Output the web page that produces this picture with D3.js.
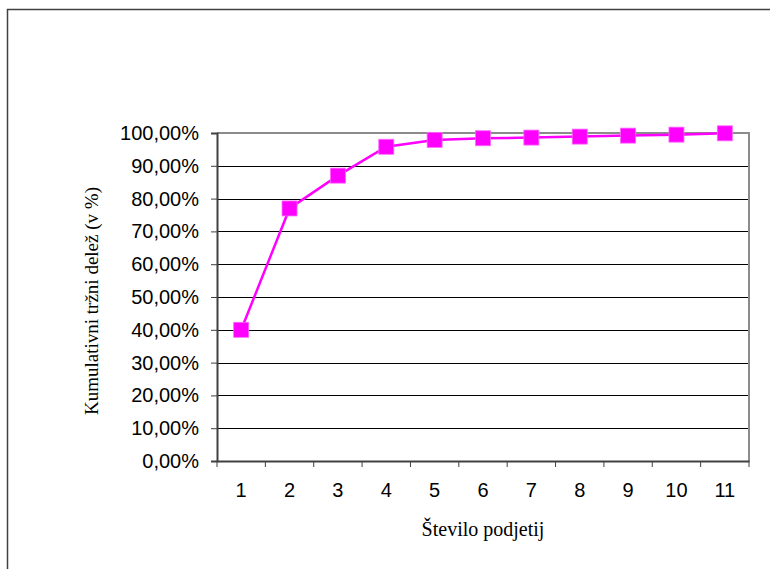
<!DOCTYPE html>
<html>
<head>
<meta charset="utf-8">
<script src="https://cdn.jsdelivr.net/npm/d3@7"></script>
<style>
html,body{margin:0;padding:0;background:#fff;}
svg{display:block;}
</style>
</head>
<body>
<svg id="chart" width="770" height="569"></svg>
<script>
const categories = ["1","2","3","4","5","6","7","8","9","10","11"];
const values = [40.0, 77.0, 87.0, 95.8, 97.9, 98.4, 98.6, 98.9, 99.2, 99.5, 99.9];
const yTicks = [0,10,20,30,40,50,60,70,80,90,100];
const xTitle = "Število podjetij";
const yTitle = "Kumulativni tržni delež (v %)";

const SANS = "'Liberation Sans', Arial, sans-serif";
const SERIF = "'Liberation Serif', 'DejaVu Serif', serif";

const svg = d3.select("#chart");
const L = 217, R = 749, T = 133, B = 461;

// outer frame
svg.append("path").attr("d", "M7.5,575 L7.5,9.5 L780,9.5")
  .attr("fill","none").attr("stroke","#404040").attr("stroke-width",1.5);

const x = d3.scaleBand().domain(categories).range([L, R]).padding(0);
const y = d3.scaleLinear().domain([0,100]).range([B, T]);

// gridlines
svg.append("g").selectAll("line").data(yTicks.filter(d => d > 0 && d < 100)).join("line")
  .attr("x1", L).attr("x2", R)
  .attr("y1", d => Math.round(y(d)) + 0.5).attr("y2", d => Math.round(y(d)) + 0.5)
  .attr("stroke", "#000").attr("stroke-width", 1);

// plot border top and right (gray)
svg.append("path").attr("d", `M${L},${T} L${R},${T} L${R},${B}`)
  .attr("fill","none").attr("stroke","#8c8c8c").attr("stroke-width",2);

// y axis
const fmt = d => d.toFixed(2).replace(".", ",") + "%";
const yAxis = svg.append("g").attr("transform", `translate(${L},0)`)
  .call(d3.axisLeft(y).tickValues(yTicks).tickFormat(fmt).tickSize(6).tickPadding(12));
yAxis.attr("font-family", null).attr("font-size", null);
yAxis.select(".domain").attr("stroke","#404040").attr("stroke-width",2);
yAxis.selectAll(".tick line").attr("stroke","#404040");
yAxis.selectAll("text").style("font-family", SANS).style("font-size","20px").attr("fill","#000");

// x axis
const xAxis = svg.append("g").attr("transform", `translate(0,${B})`)
  .call(d3.axisBottom(x).tickSize(0).tickPadding(22));
xAxis.attr("font-family", null).attr("font-size", null);
xAxis.select(".domain").attr("stroke","#404040").attr("stroke-width",2);
xAxis.selectAll("text").style("font-family", SANS).style("font-size","20px").attr("fill","#000");
// tick marks at category boundaries
const bounds = categories.map(c => x(c)).concat([R]);
svg.append("g").selectAll("line").data(bounds).join("line")
  .attr("x1", d => d).attr("x2", d => d)
  .attr("y1", B).attr("y2", B + 6)
  .attr("stroke","#404040").attr("stroke-width",1);

// line
const cx = d => x(d) + x.bandwidth()/2;
const line = d3.line().x((d,i) => cx(categories[i])).y(d => y(d));
svg.append("path").datum(values).attr("d", line)
  .attr("fill","none").attr("stroke","#ff00ff").attr("stroke-width",2.5);

// markers
const ms = 15;
svg.append("g").selectAll("rect").data(values).join("rect")
  .attr("x", (d,i) => cx(categories[i]) - ms/2)
  .attr("y", d => y(d) - ms/2)
  .attr("width", ms).attr("height", ms)
  .attr("fill","#ff00ff").attr("stroke","#ff66ff").attr("stroke-width",0.8);

// titles
svg.append("text").attr("x", 483).attr("y", 536).attr("text-anchor","middle")
  .style("font-family", SERIF).style("font-size","20px").attr("fill","#000").text(xTitle);
svg.append("text").attr("transform","translate(98,301) rotate(-90)").attr("text-anchor","middle")
  .style("font-family", SERIF).style("font-size","19px").attr("fill","#000").text(yTitle);
</script>
</body>
</html>
